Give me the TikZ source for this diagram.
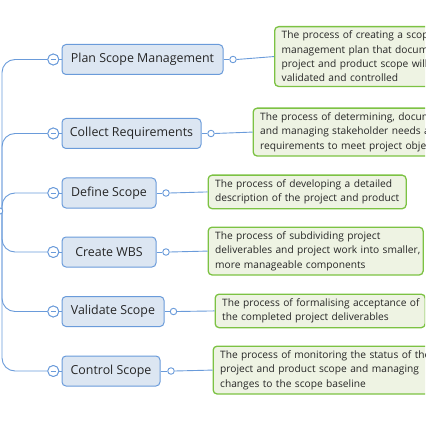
\documentclass[tikz,border=0pt]{standalone}
\usepackage{fontspec}
\setmainfont{Open Sans}
\definecolor{lineblue}{HTML}{6A9BDA}
\definecolor{boxblue}{HTML}{DCE6F2}
\definecolor{boxborder}{HTML}{6A9BDA}
\definecolor{gfill}{HTML}{EEF3E3}
\definecolor{gborder}{HTML}{7CC243}
\definecolor{txt}{HTML}{262626}
\begin{document}
\begin{tikzpicture}[x=1pt,y=-1pt,
  topic/.style={draw=boxborder,fill=boxblue,rounded corners=4pt,line width=1pt,
    minimum height=30pt,inner sep=0pt,text=txt,font=\fontsize{12.4}{15}\selectfont,anchor=west},
  desc/.style={draw=gborder,fill=gfill,rounded corners=4pt,line width=1.3pt,
    inner xsep=7pt,inner ysep=4.5pt,text=txt,align=left,anchor=north west,
    font=\fontsize{10.2}{14.3}\selectfont},
  conn/.style={draw=lineblue,line width=0.9pt},
  minusc/.style={circle,draw=lineblue,fill=white,line width=0.9pt,minimum size=11pt,inner sep=0pt},
  smallc/.style={circle,draw=lineblue,fill=white,line width=0.9pt,minimum size=6.5pt,inner sep=0pt}]
\useasboundingbox (0,0) rectangle (425,430);
\clip (0,0) rectangle (425,430);
\coordinate (root) at (2,211);
% topics
\node[topic,minimum width=161pt] (t1) at (61.5,59.5) {Plan Scope Management};
\node[topic,minimum width=139pt] (t2) at (61.5,133.5) {Collect Requirements};
\node[topic,minimum width=94pt] (t3) at (61.5,193) {Define Scope};
\node[topic,minimum width=94pt] (t4) at (61.5,252) {Create WBS};
\node[topic,minimum width=102pt] (t5) at (61.5,311.5) {Validate Scope};
\node[topic,minimum width=98pt] (t6) at (61.5,371) {Control Scope};
% minus circles
\foreach \i/\y in {1/59.5,2/133.5,3/193,4/252,5/311.5,6/371}{
  \node[minusc] (m\i) at (53.3,\y) {};
}
% small circles
\node[smallc] (c1) at (233,59.5) {};
\node[smallc] (c2) at (211,133.5) {};
\node[smallc] (c3) at (166,193) {};
\node[smallc] (c4) at (166,252) {};
\node[smallc] (c5) at (173.5,311.5) {};
\node[smallc] (c6) at (171,371) {};
% descriptions
\node[desc,text width=236pt] (d1) at (274,26) {\mbox{The process of creating a scope}\\\mbox{management plan that documents how the}\\\mbox{project and product scope will be}\\\mbox{validated and controlled}};
\node[desc,text width=236pt] (d2) at (252.5,107.5) {\mbox{The process of determining, documenting}\\\mbox{and managing stakeholder needs and}\\\mbox{requirements to meet project objectives}};
\node[desc,text width=184pt] (d3) at (207.5,174.5) {\mbox{The process of developing a detailed}\\\mbox{description of the project and product}};
\node[desc,text width=201pt] (d4) at (207.5,226.5) {\mbox{The process of subdividing project}\\\mbox{deliverables and project work into smaller,}\\\mbox{more manageable components}};
\node[desc,text width=196pt] (d5) at (214.5,293.5) {\mbox{The process of formalising acceptance of}\\\mbox{the completed project deliverables}};
\node[desc,text width=236pt] (d6) at (212.5,345.5) {\mbox{The process of monitoring the status of the}\\\mbox{project and product scope and managing}\\\mbox{changes to the scope baseline}};
% connectors
\foreach \i in {1,...,6}{
  \draw[conn,rounded corners=13pt] (root) |- (m\i.west);
  \draw[conn] (m\i.east) -- (t\i.west);
  \draw[conn] (t\i.east) -- (c\i.west);
  \draw[conn] (c\i.east) -- (d\i.west);
}
\foreach \i in {1,...,6}{
  \node[minusc] at (m\i) {};
  \draw[lineblue,line width=0.9pt] ([xshift=-2.8pt]m\i.center) -- ([xshift=2.8pt]m\i.center);
}
\node[smallc] (r0) at (-0.5,211) {};
\end{tikzpicture}
\end{document}
